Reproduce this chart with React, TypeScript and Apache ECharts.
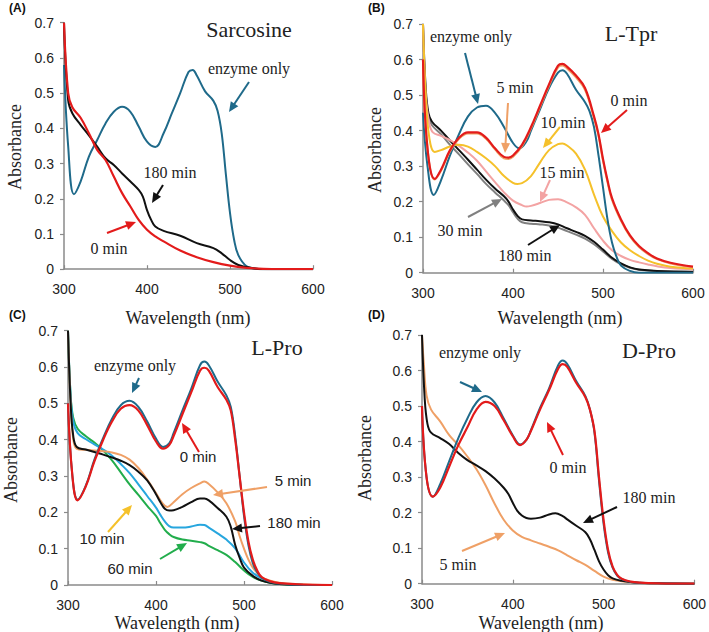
import React, { useEffect, useRef } from "react";
import * as echarts from "echarts";

// ---- Panel (A) Sarcosine: [wavelength nm, absorbance] ----
const sarEnzyme: number[][] = [[300,0.58],[305,0.35],[312,0.213],[320,0.249],[330,0.32],[340,0.367],[350,0.414],[360,0.447],[370,0.461],[380,0.447],[390,0.405],[400,0.362],[410,0.347],[420,0.386],[430,0.443],[440,0.5],[450,0.56],[455,0.566],[460,0.55],[470,0.505],[480,0.478],[485,0.45],[490,0.386],[495,0.27],[500,0.16],[505,0.083],[510,0.04],[520,0.008],[530,0.002],[540,0],[560,0],[600,0]];
const sar0: number[][] = [[300,0.7],[305,0.5],[310,0.46],[320,0.43],[330,0.386],[340,0.339],[350,0.31],[360,0.263],[370,0.216],[380,0.178],[390,0.14],[400,0.112],[410,0.093],[420,0.079],[440,0.053],[460,0.034],[480,0.02],[500,0.01],[520,0.004],[540,0.001],[560,0],[600,0]];
const sar180: number[][] = [[300,0.7],[305,0.48],[310,0.443],[320,0.41],[330,0.38],[340,0.348],[350,0.315],[360,0.296],[370,0.272],[380,0.249],[390,0.225],[395,0.206],[400,0.168],[405,0.14],[410,0.121],[420,0.109],[440,0.095],[460,0.074],[480,0.06],[490,0.045],[500,0.026],[510,0.012],[520,0.006],[530,0.002],[540,0],[560,0],[600,0]];

// ---- Panel (B) L-Tpr ----
const tprEnzyme: number[][] = [[300,0.45],[305,0.3],[312,0.219],[320,0.26],[330,0.33],[340,0.39],[350,0.44],[360,0.465],[370,0.47],[380,0.45],[390,0.41],[400,0.365],[407,0.35],[415,0.37],[420,0.4],[430,0.46],[440,0.52],[450,0.563],[455,0.57],[460,0.56],[470,0.515],[480,0.48],[485,0.455],[490,0.41],[495,0.33],[500,0.24],[505,0.15],[510,0.085],[515,0.045],[520,0.02],[530,0.005],[540,0],[560,0],[600,0]];
const tpr0: number[][] = [[300,0.6],[305,0.35],[313,0.264],[320,0.29],[330,0.345],[340,0.38],[350,0.395],[360,0.395],[370,0.38],[380,0.35],[390,0.326],[395,0.324],[400,0.33],[410,0.36],[420,0.41],[430,0.47],[440,0.53],[450,0.583],[455,0.588],[460,0.58],[470,0.555],[480,0.52],[490,0.44],[495,0.39],[500,0.32],[505,0.26],[510,0.21],[520,0.15],[530,0.105],[540,0.075],[550,0.055],[560,0.04],[575,0.028],[600,0.017]];
const tpr5: number[][] = [[300,0.6],[305,0.35],[313,0.262],[320,0.287],[330,0.342],[340,0.377],[350,0.392],[360,0.392],[370,0.377],[380,0.347],[390,0.322],[395,0.32],[400,0.326],[410,0.356],[420,0.406],[430,0.466],[440,0.526],[450,0.578],[455,0.583],[460,0.575],[470,0.55],[480,0.515],[490,0.435],[495,0.385],[500,0.315],[505,0.255],[510,0.205],[520,0.146],[530,0.102],[540,0.072],[550,0.052],[560,0.038],[575,0.026],[600,0.015]];
const tpr10: number[][] = [[300,0.7],[303,0.5],[307,0.38],[313,0.34],[320,0.345],[330,0.355],[340,0.36],[350,0.355],[360,0.34],[370,0.322],[380,0.3],[390,0.272],[400,0.253],[405,0.25],[410,0.252],[420,0.272],[430,0.31],[440,0.345],[450,0.362],[455,0.364],[460,0.358],[470,0.335],[480,0.29],[490,0.22],[500,0.158],[510,0.117],[520,0.085],[530,0.063],[540,0.047],[550,0.034],[560,0.025],[575,0.017],[600,0.012]];
const tpr15: number[][] = [[300,0.7],[303,0.5],[307,0.42],[311,0.395],[320,0.385],[330,0.373],[340,0.357],[350,0.338],[360,0.315],[370,0.285],[380,0.255],[390,0.226],[400,0.203],[410,0.19],[415,0.186],[420,0.188],[430,0.196],[440,0.205],[450,0.207],[460,0.198],[470,0.184],[480,0.163],[490,0.125],[500,0.09],[510,0.063],[520,0.047],[530,0.036],[540,0.029],[550,0.023],[560,0.018],[575,0.013],[600,0.009]];
const tpr30: number[][] = [[300,0.7],[303,0.5],[306,0.44],[310,0.415],[320,0.39],[330,0.36],[340,0.333],[350,0.305],[360,0.278],[370,0.25],[380,0.226],[390,0.203],[395,0.19],[400,0.17],[405,0.152],[410,0.142],[420,0.138],[430,0.136],[440,0.133],[450,0.127],[460,0.117],[470,0.107],[480,0.096],[490,0.08],[500,0.06],[510,0.039],[520,0.024],[530,0.014],[540,0.008],[560,0.004],[600,0.002]];
const tpr180: number[][] = [[300,0.7],[303,0.52],[306,0.45],[310,0.425],[320,0.4],[330,0.372],[340,0.345],[350,0.318],[360,0.29],[370,0.262],[380,0.237],[390,0.215],[395,0.2],[400,0.178],[405,0.16],[410,0.15],[420,0.147],[430,0.145],[440,0.142],[450,0.136],[460,0.125],[470,0.115],[480,0.104],[490,0.087],[500,0.065],[510,0.042],[520,0.026],[530,0.015],[540,0.009],[560,0.005],[600,0.003]];

// ---- Panel (C) L-Pro ----
const lproEnzyme: number[][] = [[300,0.5],[305,0.3],[311,0.235],[320,0.272],[330,0.345],[340,0.405],[350,0.458],[360,0.495],[370,0.507],[380,0.49],[390,0.45],[400,0.403],[408,0.38],[415,0.39],[420,0.418],[430,0.48],[440,0.54],[450,0.605],[455,0.615],[460,0.605],[470,0.56],[480,0.522],[485,0.49],[490,0.41],[495,0.3],[500,0.19],[505,0.11],[510,0.06],[515,0.035],[520,0.02],[530,0.008],[540,0.004],[560,0.001],[600,0]];
const lpro0: number[][] = [[300,0.5],[305,0.3],[311,0.233],[320,0.27],[330,0.34],[340,0.4],[350,0.45],[360,0.485],[370,0.495],[380,0.48],[390,0.44],[400,0.395],[408,0.375],[415,0.385],[420,0.41],[430,0.47],[440,0.53],[450,0.59],[455,0.598],[460,0.59],[470,0.545],[480,0.51],[485,0.48],[490,0.4],[495,0.3],[500,0.2],[505,0.12],[510,0.07],[515,0.04],[520,0.022],[530,0.01],[540,0.005],[560,0.002],[600,0]];
const lpro5: number[][] = [[300,0.7],[303,0.5],[306,0.4],[310,0.375],[320,0.372],[330,0.37],[340,0.368],[350,0.365],[360,0.358],[370,0.345],[380,0.322],[390,0.29],[400,0.253],[405,0.233],[410,0.218],[413,0.215],[420,0.228],[430,0.25],[440,0.267],[450,0.28],[455,0.285],[460,0.278],[470,0.255],[480,0.225],[490,0.175],[495,0.135],[500,0.1],[505,0.07],[510,0.048],[520,0.022],[530,0.012],[540,0.006],[560,0.002],[600,0]];
const lpro10: number[][] = [[300,0.7],[303,0.52],[306,0.45],[311,0.418],[320,0.402],[330,0.387],[340,0.373],[350,0.356],[360,0.333],[370,0.308],[380,0.277],[390,0.245],[400,0.213],[405,0.193],[410,0.175],[415,0.162],[420,0.158],[430,0.158],[440,0.161],[450,0.166],[455,0.165],[460,0.158],[470,0.142],[480,0.125],[490,0.101],[500,0.062],[510,0.034],[520,0.018],[530,0.009],[540,0.004],[560,0.001],[600,0]];
const lpro60: number[][] = [[300,0.7],[303,0.52],[306,0.46],[311,0.43],[320,0.41],[330,0.392],[340,0.37],[350,0.343],[360,0.31],[370,0.277],[380,0.248],[390,0.218],[400,0.19],[405,0.17],[410,0.152],[415,0.14],[420,0.132],[430,0.125],[440,0.122],[450,0.118],[455,0.115],[460,0.108],[470,0.096],[480,0.083],[490,0.063],[500,0.04],[510,0.022],[520,0.012],[530,0.006],[540,0.003],[560,0.001],[600,0]];
const lpro180: number[][] = [[300,0.7],[303,0.5],[306,0.41],[310,0.38],[320,0.373],[330,0.366],[340,0.359],[350,0.351],[360,0.342],[370,0.33],[380,0.312],[390,0.288],[400,0.25],[405,0.228],[410,0.21],[415,0.205],[420,0.206],[430,0.215],[440,0.228],[450,0.238],[455,0.238],[460,0.233],[470,0.212],[480,0.188],[485,0.16],[490,0.11],[495,0.075],[500,0.048],[510,0.025],[520,0.012],[530,0.006],[540,0.003],[560,0.001],[600,0]];

// ---- Panel (D) D-Pro ----
const dproEnzyme: number[][] = [[300,0.5],[305,0.3],[312,0.245],[320,0.28],[330,0.345],[340,0.41],[350,0.465],[360,0.51],[370,0.528],[380,0.51],[390,0.465],[400,0.418],[408,0.392],[415,0.405],[420,0.432],[430,0.495],[440,0.55],[450,0.615],[455,0.628],[460,0.618],[470,0.57],[480,0.528],[485,0.49],[490,0.425],[495,0.29],[500,0.17],[505,0.088],[510,0.045],[515,0.023],[520,0.013],[530,0.005],[540,0.002],[560,0.001],[600,0]];
const dpro0: number[][] = [[300,0.5],[305,0.3],[312,0.245],[320,0.27],[330,0.33],[340,0.39],[350,0.44],[360,0.49],[370,0.512],[380,0.5],[390,0.46],[400,0.415],[408,0.39],[415,0.405],[420,0.43],[430,0.49],[440,0.545],[450,0.605],[455,0.618],[460,0.61],[470,0.565],[480,0.525],[485,0.49],[490,0.43],[495,0.3],[500,0.18],[505,0.095],[510,0.048],[515,0.025],[520,0.014],[530,0.006],[540,0.003],[560,0.001],[600,0]];
const dpro5: number[][] = [[300,0.7],[302,0.62],[305,0.53],[310,0.49],[320,0.457],[330,0.418],[340,0.39],[350,0.358],[360,0.322],[370,0.277],[380,0.225],[390,0.18],[400,0.15],[410,0.132],[420,0.122],[430,0.113],[440,0.104],[450,0.094],[460,0.08],[470,0.066],[480,0.053],[490,0.036],[500,0.02],[510,0.011],[520,0.007],[530,0.004],[540,0.002],[560,0.001],[600,0]];
const dpro180: number[][] = [[300,0.7],[303,0.52],[306,0.45],[310,0.425],[320,0.41],[330,0.393],[340,0.368],[350,0.348],[360,0.333],[370,0.317],[380,0.296],[390,0.27],[395,0.253],[400,0.228],[405,0.205],[410,0.192],[415,0.185],[420,0.183],[430,0.186],[440,0.195],[447,0.198],[455,0.19],[460,0.181],[470,0.163],[480,0.145],[485,0.125],[490,0.095],[495,0.063],[500,0.04],[505,0.024],[510,0.015],[520,0.008],[530,0.005],[540,0.003],[560,0.001],[600,0]];

const xTicks = [300, 400, 500, 600];
const yTicks = [0, 0.1, 0.2, 0.3, 0.4, 0.5, 0.6, 0.7];

const C = {
  teal: "#1f6a8a",
  red: "#e31b1b",
  black: "#111111",
  orange: "#efa066",
  yellow: "#f5c12b",
  pink: "#f3a3a3",
  gray: "#808080",
  blue: "#27a6de",
  green: "#22ad4c",
};

const SANS = "'Liberation Sans', Arial, Helvetica, sans-serif";
const SERIF = "'Liberation Serif', 'Times New Roman', 'DejaVu Serif', serif";

// plot areas in pixels
const grids = [
  { left: 64, top: 22.7, width: 249, height: 246.5 },
  { left: 423, top: 24, width: 270, height: 248.7 },
  { left: 68, top: 330.7, width: 264, height: 254.3 },
  { left: 422, top: 335, width: 275, height: 248.7 },
];

function arrow(x1: number, y1: number, x2: number, y2: number, color: string) {
  const dx = x2 - x1, dy = y2 - y1;
  const len = Math.hypot(dx, dy);
  const ux = dx / len, uy = dy / len;
  const hl = 10, hw = 4.5;
  const bx = x2 - ux * hl, by = y2 - uy * hl;
  return [
    { type: "line", z: 100, shape: { x1, y1, x2: bx + ux, y2: by + uy }, style: { stroke: color, lineWidth: 2 } },
    {
      type: "polygon", z: 100,
      shape: { points: [[x2, y2], [bx - uy * hw, by + ux * hw], [bx + uy * hw, by - ux * hw]] },
      style: { fill: color },
    },
  ];
}

function label(text: string, x: number, y: number, size = 16, family = SERIF, color = "#222") {
  return {
    type: "text", z: 100, x, y,
    style: { text, fill: color, fontSize: size, fontFamily: family, align: "center", verticalAlign: "middle" },
  };
}

function vlabel(text: string, x: number, y: number) {
  return {
    type: "text", z: 100, x, y, rotation: Math.PI / 2,
    style: { text, fill: "#222", fontSize: 18, fontFamily: SERIF, align: "center", verticalAlign: "middle" },
  };
}

function panelTag(text: string, x: number, y: number) {
  return {
    type: "text", z: 100, x, y,
    style: { text, fill: "#111", fontSize: 12, fontWeight: "bold", fontFamily: SANS, align: "left", verticalAlign: "middle" },
  };
}

export default function App() {
  const ref = useRef<HTMLDivElement>(null);

  useEffect(() => {
    if (!ref.current) return;
    const chart = echarts.init(ref.current, undefined, { renderer: "svg" });

    const xAxes = grids.map((_, i) => ({
      type: "value", gridIndex: i, min: xTicks[0], max: xTicks[xTicks.length - 1], interval: 100,
      axisLine: { lineStyle: { color: "#8a8a8a", width: 1.5 } },
      axisTick: { inside: true, length: 4, lineStyle: { color: "#8a8a8a", width: 1.2 } },
      axisLabel: { color: "#222", fontSize: 14, fontFamily: SANS, margin: 13 },
      splitLine: { show: false },
    }));
    const yAxes = grids.map((_, i) => ({
      type: "value", gridIndex: i, min: yTicks[0], max: yTicks[yTicks.length - 1], interval: 0.1,
      axisLine: { show: true, lineStyle: { color: "#8a8a8a", width: 1.5 } },
      axisTick: { show: true, length: 4, lineStyle: { color: "#8a8a8a", width: 1.2 } },
      axisLabel: { color: "#222", fontSize: 14, fontFamily: SANS, margin: 10 },
      splitLine: { show: false },
    }));

    const line = (name: string, data: number[][], color: string, idx: number, width = 2) => ({
      name, type: "line", data, xAxisIndex: idx, yAxisIndex: idx,
      smooth: 0.4, symbol: "none",
      lineStyle: { color, width }, itemStyle: { color },
    });

    const series = [
      line("enzyme only", sarEnzyme, C.teal, 0),
      line("180 min", sar180, C.black, 0),
      line("0 min", sar0, C.red, 0, 2.2),

      line("30 min", tpr30, C.gray, 1),
      line("180 min", tpr180, C.black, 1),
      line("15 min", tpr15, C.pink, 1),
      line("10 min", tpr10, C.yellow, 1),
      line("enzyme only", tprEnzyme, C.teal, 1),
      line("5 min", tpr5, C.orange, 1),
      line("0 min", tpr0, C.red, 1, 2.2),

      line("60 min", lpro60, C.green, 2),
      line("10 min", lpro10, C.blue, 2),
      line("5 min", lpro5, C.orange, 2),
      line("180 min", lpro180, C.black, 2),
      line("enzyme only", lproEnzyme, C.teal, 2),
      line("0 min", lpro0, C.red, 2, 2.2),

      line("5 min", dpro5, C.orange, 3),
      line("180 min", dpro180, C.black, 3),
      line("enzyme only", dproEnzyme, C.teal, 3),
      line("0 min", dpro0, C.red, 3, 2.2),
    ];

    const graphic: any[] = [
      // panel tags
      panelTag("(A)", 9, 8), panelTag("(B)", 368, 8),
      panelTag("(C)", 9, 315), panelTag("(D)", 368, 315),

      // axis titles
      vlabel("Absorbance", 15, 147), vlabel("Absorbance", 375, 150),
      vlabel("Absorbance", 11, 460), vlabel("Absorbance", 365, 458),
      label("Wavelength (nm)", 188, 318, 18), label("Wavelength (nm)", 560, 318, 18),
      label("Wavelength (nm)", 177, 623, 18), label("Wavelength (nm)", 541, 623, 18),

      // (A) Sarcosine
      label("Sarcosine", 249, 29, 22),
      label("enzyme only", 249, 68),
      ...arrow(249, 82, 229, 112, C.teal),
      label("180 min", 170, 172),
      ...arrow(163, 185, 152, 203, C.black),
      label("0 min", 109, 248),
      ...arrow(107, 233, 136, 222, C.red),

      // (B) L-Tpr
      label("L-Tpr", 631, 33, 22),
      label("enzyme only", 471, 36),
      ...arrow(465, 53, 478, 104, C.teal),
      label("5 min", 515, 87),
      ...arrow(508, 103, 505, 153, C.orange),
      label("0 min", 629, 100),
      ...arrow(627, 110, 601, 133, C.red),
      label("10 min", 563, 122),
      ...arrow(560, 127, 543, 148, C.yellow),
      label("15 min", 562, 172),
      ...arrow(550, 180, 540, 202, C.pink),
      label("30 min", 460, 230),
      ...arrow(468, 217, 502, 199, C.gray),
      label("180 min", 525, 255),
      ...arrow(528, 245, 560, 225, C.black),

      // (C) L-Pro
      label("L-Pro", 277, 347, 22),
      label("enzyme only", 135, 365),
      ...arrow(139, 378, 132, 393, C.teal),
      label("0 min", 198, 456, 15, SANS),
      ...arrow(199, 452, 182, 423, C.red),
      label("5 min", 293, 480, 15, SANS),
      ...arrow(267, 487, 213, 495, C.orange),
      label("180 min", 294, 522, 15, SANS),
      ...arrow(260, 526, 232, 529, C.black),
      label("10 min", 102, 538, 15, SANS),
      ...arrow(108, 532, 132, 505, C.yellow),
      label("60 min", 130, 568, 15, SANS),
      ...arrow(160, 559, 187, 543, C.green),

      // (D) D-Pro
      label("D-Pro", 649, 350, 22),
      label("enzyme only", 480, 352),
      ...arrow(460, 382, 482, 392, C.teal),
      label("0 min", 568, 467),
      ...arrow(563, 455, 547, 422, C.red),
      label("180 min", 649, 497),
      ...arrow(617, 507, 583, 523, C.black),
      label("5 min", 458, 564),
      ...arrow(462, 551, 505, 533, C.orange),
    ];

    chart.setOption({
      animation: false,
      backgroundColor: "#ffffff",
      grid: grids.map((g) => ({ ...g, containLabel: false })),
      xAxis: xAxes,
      yAxis: yAxes,
      series,
      graphic,
    });

    return () => chart.dispose();
  }, []);

  return (
    <div
      ref={ref}
      style={{ position: "fixed", left: 0, top: 0, width: 709, height: 632, background: "#fff" }}
    />
  );
}
